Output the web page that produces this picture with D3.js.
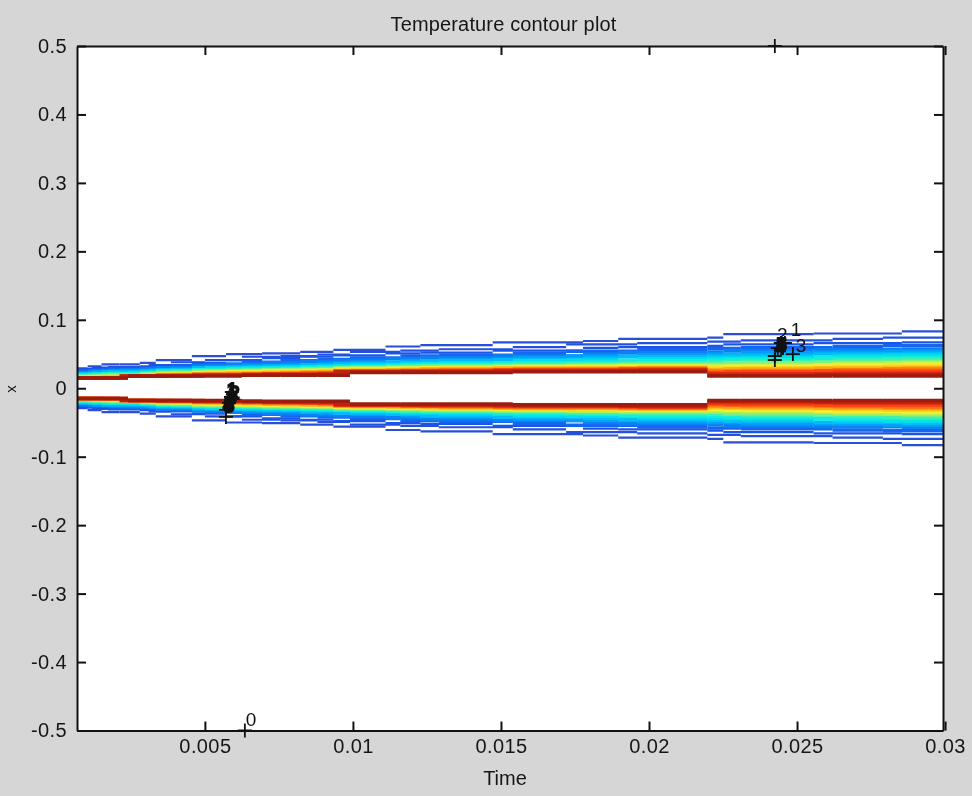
<!DOCTYPE html>
<html><head><meta charset="utf-8">
<script src="https://cdn.jsdelivr.net/npm/d3@7"></script>
<style>html,body{margin:0;padding:0;background:#d6d6d6;overflow:hidden}svg{display:block;filter:blur(0.4px)}
text{font-family:"Liberation Sans",Arial,sans-serif;fill:#161616}</style></head><body>
<svg id="c" width="972" height="796"></svg>
<script>
const xTicks=[0.005,0.01,0.015,0.02,0.025,0.03];
const xTickLabels=["0.005","0.01","0.015","0.02","0.025","0.03"];
const yTicks=[-0.5,-0.4,-0.3,-0.2,-0.1,0,0.1,0.2,0.3,0.4,0.5];
const yTickLabels=["-0.5","-0.4","-0.3","-0.2","-0.1","0","0.1","0.2","0.3","0.4","0.5"];
const timesA=[0.00068,0.00104,0.00151,0.00212,0.0028,0.00334,0.00456,0.00571,0.00693,0.00822,0.00934,0.0111,0.01228,0.01472,0.01777,0.01896,0.02197,0.02251,0.02556,0.02854,0.02993];
const timesB=[0.00068,0.00118,0.00172,0.00240,0.0031,0.00385,0.00500,0.00625,0.00755,0.00880,0.00990,0.0116,0.01290,0.01540,0.01720,0.01960,0.02197,0.02310,0.02620,0.02790,0.02993];
// half-width of each temperature contour at each time, in thousandths of x
const L1=[29,32,35,35,37,41,47,50,51,53,56,61,63,67,69,72,74,79,80,83];
const L2=[28,30,31,31,34,38,41,46,47,49,53,55,57,60,64,66,68,70,72,74];
const L3=[26,28,29,29,32,34,37,41,44,46,48,51,52,55,59,60,62,64,66,67];
const L4=[25,26,28,28,30,32,35,38,40,42,44,47,48,51,54,56,58,59,61,62];
const L5=[23,25,26,27,28,30,33,35,37,39,41,43,45,47,50,52,53,55,56,57];
const L6=[22,24,25,25,27,28,31,33,34,36,38,40,42,45,47,49,50,52,53,54];
const L7=[21,22,24,24,25,27,30,31,32,34,36,38,40,42,44,46,47,48,50,51];
const L8=[20,21,22,23,24,26,29,30,31,32,34,36,37,40,41,43,44,45,47,48];
const L9=[19,20,21,21,23,25,27,28,29,31,32,34,35,37,38,40,41,42,44,45];
const L10=[18,19,20,20,22,24,26,27,28,29,31,33,34,35,36,37,38,39,41,42];
const L11=[17,18,19,19,21,23,25,26,27,28,30,31,32,33,34,35,35,37,38,39];
const L12=[16,17,18,18,20,22,24,25,26,27,29,30,31,32,33,33,33,34,36,37];
const L13=[16,16,17,18,19,21,23,24,25,26,28,29,30,31,31,32,31,32,34,35];
const L14=[15,16,16,18,19,20,22,23,24,25,27,28,29,30,30,31,29,30,31,32];
const L15=[15,15,16,18,18,20,21,22,23,24,26,27,28,29,29,30,27,28,29,30];
const L16=[15,15,15,18,18,19,20,21,22,23,25,26,27,28,28,29,25,26,27,28];
const L17=[15,15,15,18,18,19,20,20,21,22,25,25,26,27,27,28,23,24,25,25];
const L18=[15,15,15,18,18,18,19,20,20,21,24,25,25,26,26,27,21,21,22,22];
const L19=[15,15,15,18,18,18,19,19,20,20,24,24,24,25,25,26,19,19,20,20];
const L20=[15,15,15,18,18,18,18,19,19,19,23,23,23,24,24,24,18,18,18,18];
const levels=[L1,L2,L3,L4,L5,L6,L7,L8,L9,L10,L11,L12,L13,L14,L15,L16,L17,L18,L19,L20];
const levelColors=["#2a4fd6","#2350dd","#1b55e6","#1565f0","#0d7ff5","#059df8","#00bdf8","#00dcf0","#10eedc","#40f0b0","#80f080","#b8f050","#f0f030","#ffd020","#ffa818","#ff7810","#f84810","#e02c10","#c02010","#9c1c10"];
// contour-label crosses and digits
const crossT=[0.02486,0.02459,0.02425,0.02425,0.02435,0.02445,0.02425,0.00571,0.00571,0.00581,0.00588,0.00591,0.00635];
const crossX=[0.0500,0.0661,0.0413,0.0471,0.0588,0.0661,0.5,-0.0419,-0.0317,-0.0215,-0.0128,-0.0055,-0.5];
const labelT=[0.02479,0.02432,0.02496,0.02425,0.02430,0.00574,0.00581,0.00571,0.00561,0.00564,0.00638];
const labelX=[0.0763,0.0690,0.0530,0.0500,0.0544,-0.0113,-0.0157,-0.0230,-0.0332,-0.0347,-0.4936];
const labelText=["1","2","3","4","5","1","2","3","4","5","0"];

const svg=d3.select("#c");
const x=d3.scaleLinear().domain([0.00068,0.02993]).range([77,943]);
const y=d3.scaleLinear().domain([-0.5,0.5]).range([730.5,46]);
svg.append("rect").attr("x",77).attr("y",46).attr("width",866).attr("height",684.5).attr("fill","#fff");
svg.append("clipPath").attr("id","pc").append("rect").attr("x",77).attr("y",46).attr("width",866).attr("height",684.5);
const g=svg.append("g").attr("clip-path","url(#pc)");
const line=d3.line().x(d=>x(d[0])).y(d=>y(d[1]/1000));
levels.forEach((v,k)=>{
  const ts=k%2?timesB:timesA;
  [1,-1].forEach(s=>{
    v.forEach((w,i)=>{
      g.append("path").attr("d",line([[ts[i],s*w],[ts[i+1],s*w]])).attr("fill","none")
       .attr("stroke",levelColors[k]).attr("stroke-width",k<3?2.2:3.6);
    });
  });
});
// axes
const tickFmtX=d=>xTickLabels[xTicks.indexOf(d)], tickFmtY=d=>yTickLabels[yTicks.indexOf(d)];
const styleAxis=a=>{a.select(".domain").attr("stroke","#111").attr("stroke-width",2);a.selectAll("line").attr("stroke","#111").attr("stroke-width",2);
  a.selectAll("text").attr("font-size",20).style("letter-spacing","0.4px").attr("fill","#161616");};
svg.append("g").attr("transform","translate(0,730.5)").call(d3.axisBottom(x).tickValues(xTicks).tickFormat(tickFmtX).tickSize(-9).tickSizeOuter(0).tickPadding(8)).call(styleAxis);
svg.append("g").attr("transform","translate(0,46)").call(d3.axisTop(x).tickValues(xTicks).tickFormat("").tickSize(-9).tickSizeOuter(0)).call(styleAxis);
svg.append("g").attr("transform","translate(77,0)").call(d3.axisLeft(y).tickValues(yTicks).tickFormat(tickFmtY).tickSize(-9).tickSizeOuter(0).tickPadding(10)).call(styleAxis);
svg.append("g").attr("transform","translate(943,0)").call(d3.axisRight(y).tickValues(yTicks).tickFormat("").tickSize(-9).tickSizeOuter(0)).call(styleAxis);
// contour labels
const ch=svg.append("g");
crossT.forEach((t,i)=>{
  const p=d3.path(),cx=x(t),cy=y(crossX[i]);
  p.moveTo(cx-7,cy);p.lineTo(cx+7,cy);p.moveTo(cx,cy-7);p.lineTo(cx,cy+7);
  ch.append("path").attr("d",p.toString()).attr("stroke","#111").attr("stroke-width",1.8).attr("fill","none");
});
labelT.forEach((t,i)=>{
  const heavy=(i>=3&&i<=9);
  ch.append("text").attr("x",x(t)).attr("y",y(labelX[i])).attr("font-size",19)
    .style("fill","#111").style("stroke",heavy?"#111":"none").style("stroke-width",heavy?2.2:0).text(labelText[i]);
});
// titles
svg.append("text").attr("x",503.5).attr("y",31).attr("text-anchor","middle").attr("font-size",20).style("letter-spacing","0.15px").text("Temperature contour plot");
svg.append("text").attr("x",505).attr("y",785).attr("text-anchor","middle").attr("font-size",20).text("Time");
svg.append("text").attr("transform","translate(16,389) rotate(-90)").attr("text-anchor","middle").attr("font-size",15).text("x");
</script></body></html>
